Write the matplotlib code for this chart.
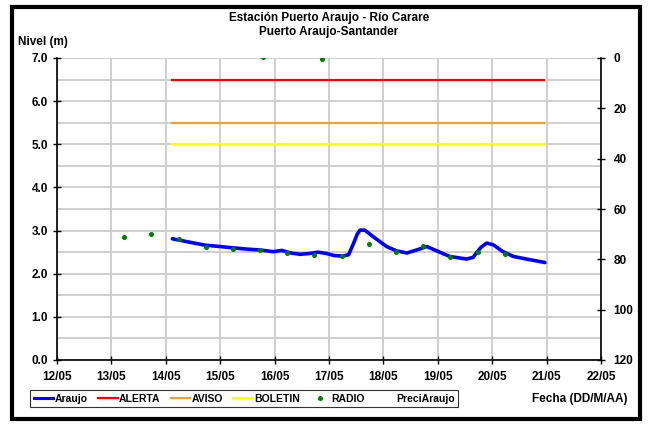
import matplotlib
matplotlib.use("Agg")
import matplotlib.pyplot as plt
from matplotlib.patches import Rectangle
from matplotlib.lines import Line2D
import numpy as np

plt.rcParams['font.family'] = ['Liberation Sans', 'DejaVu Sans']
plt.rcParams['font.weight'] = 'bold'

# ---- data ----
araujo_day = [14.12, 14.40, 14.73, 15.00, 15.23, 15.50, 15.73, 15.98, 16.13, 16.30, 16.47, 16.65,
              16.80, 16.95, 17.10, 17.25, 17.36, 17.45, 17.52, 17.57, 17.66, 17.81, 18.06, 18.24,
              18.43, 18.61, 18.80, 18.98, 19.22, 19.53, 19.65, 19.72, 19.80, 19.90, 20.02, 20.20,
              20.39, 20.63, 20.97]
araujo_lvl = [2.81, 2.74, 2.66, 2.63, 2.60, 2.57, 2.55, 2.51, 2.54, 2.48, 2.45, 2.47,
              2.50, 2.47, 2.42, 2.41, 2.44, 2.70, 2.92, 3.01, 3.01, 2.86, 2.63, 2.53,
              2.48, 2.55, 2.63, 2.53, 2.40, 2.34, 2.38, 2.50, 2.62, 2.71, 2.67, 2.51,
              2.40, 2.34, 2.26]

radio_day = [13.24, 13.73, 14.24, 14.73, 15.23, 15.73, 15.78, 16.23, 16.73, 16.88, 17.23, 17.74,
             18.24, 18.73, 19.23, 19.73, 20.23]
radio_lvl = [2.85, 2.91, 2.80, 2.63, 2.58, 2.54, 7.02, 2.48, 2.43, 6.97, 2.41, 2.70,
             2.50, 2.65, 2.38, 2.51, 2.46]

threshold_span = [14.11, 20.96]
alerta = 6.5
aviso = 5.5
boletin = 5.0

x_ticks = [12, 13, 14, 15, 16, 17, 18, 19, 20, 21, 22]
x_labels = ["12/05", "13/05", "14/05", "15/05", "16/05", "17/05", "18/05",
            "19/05", "20/05", "21/05", "22/05"]
y_ticks = [0, 1, 2, 3, 4, 5, 6, 7]
y2_ticks = [0, 20, 40, 60, 80, 100, 120]

# ---- figure ----
fig = plt.figure(figsize=(6.51, 4.24), dpi=100)
ax = fig.add_axes([57/651, 1-360/424, (601-57)/651, (360-58)/424])

ax.set_xlim(12, 22)
ax.set_ylim(0, 7)
ax.set_yticks(np.arange(0, 7.01, 0.5), minor=True)
ax.grid(True, which='both', axis='y', color='#cfcfcf', lw=1.4, zorder=0)
ax.grid(True, which='major', axis='x', color='#cfcfcf', lw=1.4, zorder=0)
ax.tick_params(axis='y', which='minor', length=0)

ax.plot(threshold_span, [alerta]*2, color='#ff0000', lw=1.6, zorder=3)
ax.plot(threshold_span, [aviso]*2, color='#f0a030', lw=1.6, zorder=3)
ax.plot(threshold_span, [boletin]*2, color='#ffff00', lw=1.6, zorder=3)
ax.plot(araujo_day, araujo_lvl, color='#0000ff', lw=2.6, zorder=4, solid_capstyle='round')
ax.plot(radio_day, radio_lvl, 'o', color='#008000', ms=2.6, zorder=5, clip_on=True)

ax.set_xticks(x_ticks)
ax.set_xticklabels(x_labels)
ax.set_yticks(y_ticks)
ax.set_yticklabels([f"{v:.1f}" for v in y_ticks])
ax.tick_params(axis='both', which='major', direction='inout', length=6, width=1,
               labelsize=8.5, colors='black')
ax.tick_params(axis='x', pad=5)
for lab in ax.get_xticklabels() + ax.get_yticklabels():
    lab.set_fontweight('bold')

ax.spines['top'].set_visible(False)
ax.spines['right'].set_visible(False)
for s in ['left', 'bottom']:
    ax.spines[s].set_linewidth(1.2)

ax2 = ax.twinx()
ax2.set_ylim(120, 0)
ax2.set_yticks(y2_ticks)
ax2.tick_params(axis='y', direction='inout', length=6, width=1, labelsize=8.5, pad=6)
for lab in ax2.get_yticklabels():
    lab.set_fontweight('bold')
ax2.spines['top'].set_visible(False)
ax2.spines['left'].set_visible(False)
ax2.spines['bottom'].set_visible(False)
ax2.spines['right'].set_linewidth(1.2)

# titles
fig.text(329/651, 1-18/424, "Estación Puerto Araujo - Río Carare", ha='center', va='center',
         fontsize=8.5, fontweight='bold')
fig.text(329/651, 1-32/424, "Puerto Araujo-Santander", ha='center', va='center',
         fontsize=8.5, fontweight='bold')
fig.text(18/651, 1-42/424, "Nivel (m)", ha='left', va='center', fontsize=8.5, fontweight='bold')
fig.text(627/651, 1-399/424, "Fecha (DD/M/AA)", ha='right', va='center', fontsize=8.5,
         fontweight='bold')

# legend
handles = [
    Line2D([], [], color='#0000ff', lw=2.2),
    Line2D([], [], color='#ff0000', lw=1.6),
    Line2D([], [], color='#f0a030', lw=1.6),
    Line2D([], [], color='#ffff00', lw=1.6),
    Line2D([], [], color='#008000', marker='o', ms=2.6, lw=0),
    Line2D([], [], color='none', lw=0),
]
labels = ["Araujo", "ALERTA", "AVISO", "BOLETIN", "RADIO", "PreciAraujo"]
leg = fig.legend(handles, labels, loc='center left', bbox_to_anchor=(30/651, 1-398.5/424),
                 ncol=6, frameon=True, fancybox=False, edgecolor='black', fontsize=7.5,
                 handlelength=1.9, handletextpad=0.1, columnspacing=1.0, borderpad=0.35,
                 borderaxespad=0)
leg.get_frame().set_linewidth(0.8)
for t in leg.get_texts():
    t.set_fontweight('bold')

# outer border
fig.add_artist(Rectangle((11.5/651, 1-419/424), (640-11.5)/651, (419-6.5)/424,
                         transform=fig.transFigure, fill=False, edgecolor='black', lw=3))

fig.savefig("out.png", dpi=100)
